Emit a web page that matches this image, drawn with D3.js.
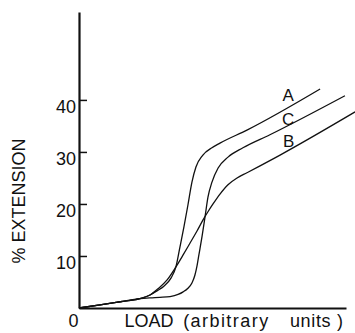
<!DOCTYPE html>
<html>
<head>
<meta charset="utf-8">
<script src="https://cdn.jsdelivr.net/npm/d3@7"></script>
<style>
  html, body { margin: 0; padding: 0; background: #fff; }
  svg { display: block; }
  text { font-family: "Liberation Sans", Arial, sans-serif; fill: #111; }
</style>
</head>
<body>
<svg id="chart" width="355" height="333"></svg>
<script>
// ---- data ----
const yTickValues = [10, 20, 30, 40];
const xTickValues = [0];
const yAxisMax = 56.9;
const xAxisMax = 100;

// curve A
const curveAx = [0, 7.9, 15.4, 22.8, 26.6, 29.2, 31.8, 34.5, 36.3, 37.8, 39.3, 40.8, 42.3, 43.8, 46.4, 49.8, 52.8, 62.9, 90.3];
const curveAy = [0, 0.6, 1.2, 1.8, 2.5, 3.3, 4.2, 5.8, 7.9, 11.7, 15.6, 19.8, 24.2, 27.1, 29.4, 30.8, 31.7, 34.2, 42.1];
// curve B
const curveBx = [0, 7.9, 15.4, 22.8, 26.6, 29.6, 33.0, 36.3, 39.0, 41.6, 44.2, 46.4, 48.3, 50.2, 52.8, 55.8, 59.2, 62.9, 75.3, 103.4];
const curveBy = [0, 0.6, 1.2, 1.8, 2.5, 3.7, 5.4, 7.9, 10.2, 12.5, 14.8, 16.9, 18.5, 20.0, 21.9, 23.7, 25.0, 26.0, 29.4, 37.7];
// curve C
const curveCx = [0, 7.9, 15.4, 22.8, 26.6, 30.3, 34.1, 37.1, 39.0, 40.8, 42.3, 43.4, 44.2, 44.9, 46.1, 47.2, 48.3, 49.8, 52.1, 55.8, 61.4, 71.5, 99.6];
const curveCy = [0, 0.6, 1.2, 1.8, 1.95, 2.05, 2.2, 2.6, 3.1, 3.8, 4.8, 6.3, 8.1, 10.2, 13.8, 17.5, 21.3, 24.2, 26.9, 29.0, 30.8, 33.3, 40.8];

const curveNames = ["A", "C", "B"];
const labelX = [78.3, 78.3, 78.5];
const labelY = [41.0, 36.3, 32.1];

const yAxisTitle = "% EXTENSION";
const xAxisTitleParts = ["LOAD", "(arbitrary", "units )"];
const xAxisTitlePos = [17, 39, 79];

// ---- drawing ----
const svg = d3.select("#chart");
const x = d3.scaleLinear().domain([0, xAxisMax]).range([79, 346]);
const y = d3.scaleLinear().domain([0, yAxisMax]).range([308, 12]);

const series = [
  curveAx.map((v, i) => [v, curveAy[i]]),
  curveBx.map((v, i) => [v, curveBy[i]]),
  curveCx.map((v, i) => [v, curveCy[i]])
];

const line = d3.line()
  .x(d => x(d[0]))
  .y(d => y(d[1]))
  .curve(d3.curveMonotoneX);

svg.append("g")
  .selectAll("path")
  .data(series)
  .join("path")
  .attr("d", line)
  .attr("fill", "none")
  .attr("stroke", "#111")
  .attr("stroke-width", 1.3);

// y axis
const yAxis = svg.append("g")
  .attr("transform", `translate(${x(0)},0)`)
  .call(d3.axisLeft(y).tickValues(yTickValues).tickSize(-8).tickSizeOuter(0).tickPadding(3));
yAxis.select(".domain").attr("stroke", "#111").attr("stroke-width", 2.2);
yAxis.selectAll(".tick line").attr("stroke", "#111").attr("stroke-width", 1.5);
yAxis.selectAll(".tick text")
  .attr("dy", "0.68em")
  .style("font-size", "18px")
  .style("font-family", "Liberation Sans, Arial, sans-serif")
  .attr("fill", "#111");

// x axis
const xAxis = svg.append("g")
  .attr("transform", `translate(0,${y(0)})`)
  .call(d3.axisBottom(x).tickValues(xTickValues).tickSize(0).tickSizeOuter(0).tickPadding(6));
xAxis.select(".domain").attr("stroke", "#111").attr("stroke-width", 2.2);
xAxis.selectAll(".tick text")
  .attr("text-anchor", "end")
  .attr("x", -1)
  .attr("dy", "0.72em")
  .style("font-size", "18px")
  .style("font-family", "Liberation Sans, Arial, sans-serif")
  .attr("fill", "#111");

// x axis title
const xLens = [49, 85, 53];
svg.append("g")
  .selectAll("text")
  .data(xAxisTitleParts)
  .join("text")
  .attr("x", (d, i) => x(xAxisTitlePos[i]))
  .attr("y", y(0) + 19)
  .attr("textLength", (d, i) => xLens[i])
  .attr("lengthAdjust", "spacing")
  .style("font-size", "18px")
  .text(d => d);

// y axis title
svg.append("text")
  .attr("transform", `translate(25,201) rotate(-90)`)
  .attr("text-anchor", "middle")
  .style("font-size", "18px")
  .text(yAxisTitle);

// curve labels
svg.append("g")
  .selectAll("text")
  .data(curveNames)
  .join("text")
  .attr("x", (d, i) => x(labelX[i]))
  .attr("y", (d, i) => y(labelY[i]))
  .attr("text-anchor", "middle")
  .attr("dy", "0.35em")
  .style("font-size", "17px")
  .text(d => d);
</script>
</body>
</html>
